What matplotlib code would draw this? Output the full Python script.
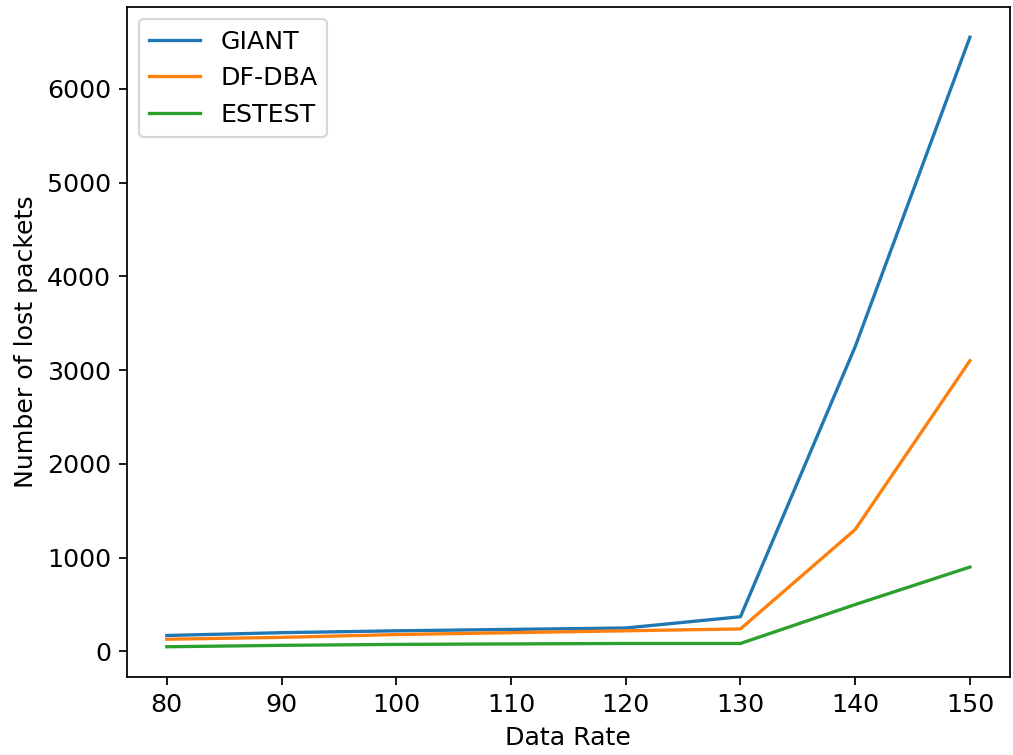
import matplotlib
matplotlib.use("Agg")
import matplotlib.pyplot as plt

data_rate = [80, 90, 100, 110, 120, 130, 140, 150]
giant = [170, 200, 220, 235, 250, 370, 3250, 6550]
df_dba = [130, 150, 180, 200, 220, 240, 1300, 3100]
estest = [50, 65, 75, 80, 85, 85, 500, 900]

plt.rcParams["font.size"] = 11.5

fig = plt.figure(figsize=(6.4, 4.77), dpi=158.3)
ax = fig.add_axes([0.125, 0.103, 0.872, 0.888])
ax.plot(data_rate, giant, label="GIANT")
ax.plot(data_rate, df_dba, label="DF-DBA")
ax.plot(data_rate, estest, label="ESTEST")
ax.set_xlabel("Data Rate")
ax.set_ylabel("Number of lost packets")
ax.legend(loc="upper left")
fig.savefig("out.png", dpi=158.3)
plt.close(fig)
